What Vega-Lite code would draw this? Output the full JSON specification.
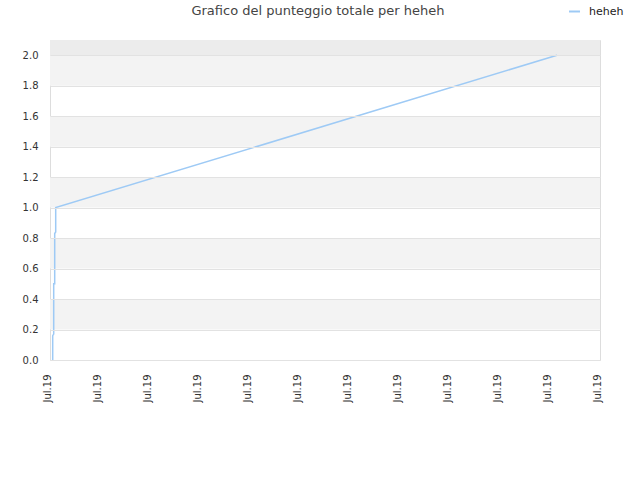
{
  "$schema": "https://vega.github.io/schema/vega-lite/v6.json",
  "autosize": {"type": "none"},
  "width": 550,
  "height": 320,
  "padding": {"left": 50, "top": 40, "right": 40, "bottom": 120},
  "background": "white",
  "config": {
    "font": "DejaVu Sans",
    "view": {"stroke": "#dddddd", "strokeWidth": 1},
    "axis": {"labelOverlap": false, "labelFontSize": 10, "labelColor": "#333333"},
    "title": {"fontSize": 13, "fontWeight": "normal", "color": "#444444", "anchor": "middle", "offset": -13, "dx": -7}
  },
  "title": "Grafico del punteggio totale per heheh",
  "datasets": {
    "bands": [
      {"y0": 0.2, "y1": 0.4, "shade": "light"},
      {"y0": 0.6, "y1": 0.8, "shade": "light"},
      {"y0": 1.0, "y1": 1.2, "shade": "light"},
      {"y0": 1.4, "y1": 1.6, "shade": "light"},
      {"y0": 1.8, "y1": 2.0, "shade": "light"},
      {"y0": 2.0, "y1": 2.1, "shade": "dark"}
    ],
    "scores": [
      {"t": 0.054, "score": 0, "series": "heheh"},
      {"t": 0.054, "score": 0.16, "series": "heheh"},
      {"t": 0.074, "score": 0.17, "series": "heheh"},
      {"t": 0.074, "score": 0.5, "series": "heheh"},
      {"t": 0.094, "score": 0.5, "series": "heheh"},
      {"t": 0.094, "score": 0.83, "series": "heheh"},
      {"t": 0.114, "score": 0.84, "series": "heheh"},
      {"t": 0.114, "score": 1.0, "series": "heheh"},
      {"t": 10.14, "score": 2.0, "series": "heheh"}
    ]
  },
  "layer": [
    {
      "data": {"name": "bands"},
      "mark": {"type": "rect"},
      "encoding": {
        "y": {
          "field": "y0",
          "type": "quantitative",
          "scale": {"domain": [0, 2.1], "nice": false},
          "axis": {
            "title": null,
            "values": [0, 0.2, 0.4, 0.6, 0.8, 1.0, 1.2, 1.4, 1.6, 1.8, 2.0],
            "format": ".1f",
            "labelPadding": 12,
            "labelOverlap": false,
            "ticks": false,
            "domain": false,
            "grid": true,
            "gridColor": "#e2e2e2",
            "zindex": 1
          }
        },
        "y2": {"field": "y1"},
        "fill": {
          "field": "shade",
          "type": "nominal",
          "scale": {"domain": ["light", "dark"], "range": ["#f3f3f3", "#ececec"]},
          "legend": null
        }
      }
    },
    {
      "data": {"name": "scores"},
      "mark": {"type": "line", "strokeWidth": 1.5, "clip": true},
      "encoding": {
        "x": {
          "field": "t",
          "type": "quantitative",
          "scale": {"domain": [0, 11], "nice": false, "zero": false},
          "axis": {
            "title": null,
            "values": [0, 1, 2, 3, 4, 5, 6, 7, 8, 9, 10, 11],
            "labelExpr": "'Jul.19'",
            "labelAngle": 270,
            "labelAlign": "right",
            "labelBaseline": "alphabetic",
            "labelPadding": 14,
            "labelOverlap": false,
            "ticks": false,
            "domain": false,
            "grid": false
          }
        },
        "y": {
          "field": "score",
          "type": "quantitative",
          "axis": {
            "title": null,
            "values": [0, 0.2, 0.4, 0.6, 0.8, 1.0, 1.2, 1.4, 1.6, 1.8, 2.0],
            "format": ".1f",
            "labelPadding": 12,
            "labelOverlap": false,
            "ticks": false,
            "domain": false,
            "grid": true,
            "gridColor": "#e2e2e2",
            "zindex": 1
          }
        },
        "stroke": {
          "field": "series",
          "type": "nominal",
          "scale": {"domain": ["heheh"], "range": ["#9ecaf5"]},
          "legend": {
            "title": null,
            "orient": "none",
            "legendX": 518,
            "legendY": -35,
            "symbolType": "stroke",
            "symbolSize": 120,
            "symbolStrokeWidth": 2,
            "labelFontSize": 11,
            "labelColor": "#222222",
            "labelOffset": 8
          }
        }
      }
    }
  ]
}
